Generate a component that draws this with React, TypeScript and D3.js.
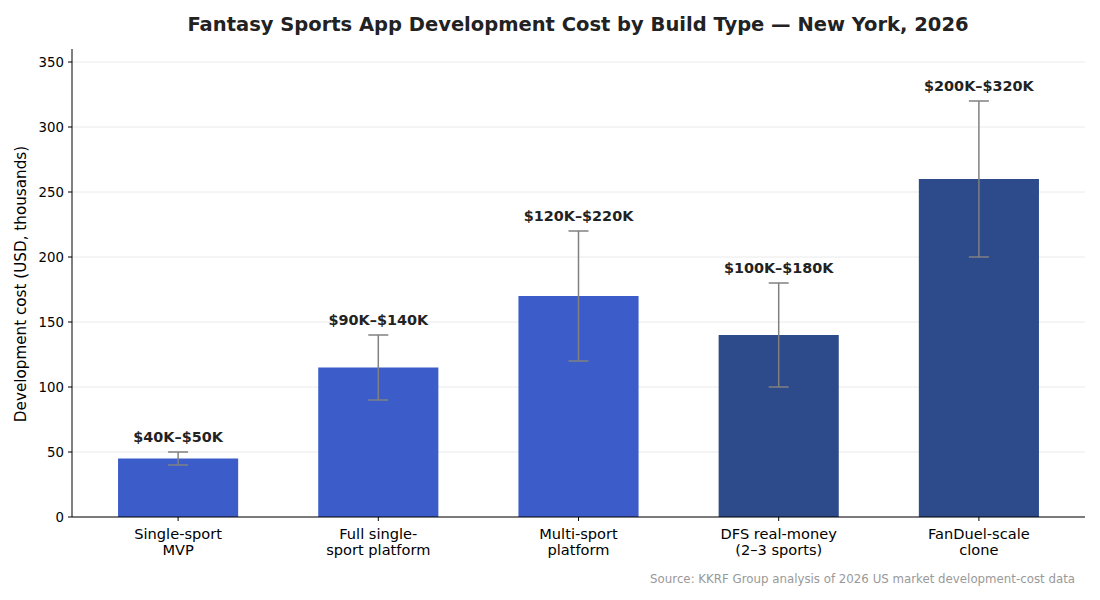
import React from 'react';
import * as d3 from 'd3';

const categories = ['Single-sport\nMVP', 'Full single-\nsport platform', 'Multi-sport\nplatform', 'DFS real-money\n(2–3 sports)', 'FanDuel-scale\nclone'];
const midValues = [45, 115, 170, 140, 260];
const lowValues = [40, 90, 120, 100, 200];
const highValues = [50, 140, 220, 180, 320];
const rangeLabels = ['$40K–$50K', '$90K–$140K', '$120K–$220K', '$100K–$180K', '$200K–$320K'];
const barColors = ['#3b5cc9', '#3b5cc9', '#3b5cc9', '#2d4a8a', '#2d4a8a'];
const yTicks = [0, 50, 100, 150, 200, 250, 300, 350];

const W = 1100;
const H = 600;
const left = 72;
const right = 1085;
const top = 49;
const bottom = 517;
const font = 'DejaVu Sans, sans-serif';

const App: React.FC = () => {
    // matplotlib-like linear x axis: bars at 0..4, width 0.6, 5% margins
    const x = d3.scaleLinear().domain([-0.53, 4.53]).range([left, right]);
    const y = d3.scaleLinear().domain([0, 360]).range([bottom, top]);
    const barW = x(0.6) - x(0);

    return (
        <svg width={W} height={H} style={{ position: 'absolute', left: 0, top: 0, background: '#fff' }} fontFamily={font}>
            <text x={578} y={31} textAnchor="middle" fontSize={19.5} fontWeight="bold" fill="#222">
                Fantasy Sports App Development Cost by Build Type — New York, 2026
            </text>

            {/* grid */}
            {yTicks.map(t => (
                <line key={'g' + t} x1={left} x2={right} y1={y(t)} y2={y(t)} stroke="#e5e5e5" strokeWidth={0.8} />
            ))}

            {/* bars */}
            {midValues.map((v, i) => (
                <rect key={'b' + i} x={x(i) - barW / 2} y={y(v)} width={barW} height={y(0) - y(v)} fill={barColors[i]} />
            ))}

            {/* error bars */}
            {midValues.map((_, i) => (
                <g key={'e' + i} stroke="#808080" strokeWidth={1.5}>
                    <line x1={x(i)} x2={x(i)} y1={y(lowValues[i])} y2={y(highValues[i])} />
                    <line x1={x(i) - 10} x2={x(i) + 10} y1={y(lowValues[i])} y2={y(lowValues[i])} />
                    <line x1={x(i) - 10} x2={x(i) + 10} y1={y(highValues[i])} y2={y(highValues[i])} />
                </g>
            ))}

            {/* range labels */}
            {rangeLabels.map((l, i) => (
                <text key={'l' + i} x={x(i)} y={y(highValues[i]) - 10} textAnchor="middle" fontSize={14.4} fontWeight="bold" fill="#222">
                    {l}
                </text>
            ))}

            {/* axes */}
            <line x1={left} x2={left} y1={top} y2={bottom} stroke="#000" strokeWidth={1} />
            <line x1={left} x2={right} y1={bottom} y2={bottom} stroke="#000" strokeWidth={1} />

            {yTicks.map(t => (
                <g key={'t' + t}>
                    <line x1={left - 4} x2={left} y1={y(t)} y2={y(t)} stroke="#000" />
                    <text x={left - 8} y={y(t)} dy="0.35em" textAnchor="end" fontSize={13.3} fill="#000">{t}</text>
                </g>
            ))}

            {categories.map((c, i) => (
                <g key={'c' + i}>
                    <line x1={x(i)} x2={x(i)} y1={bottom} y2={bottom + 4} stroke="#000" />
                    {c.split('\n').map((ln, j) => (
                        <text key={j} x={x(i)} y={bottom + 22 + j * 16} textAnchor="middle" fontSize={14.6} fill="#000">{ln}</text>
                    ))}
                </g>
            ))}

            <text transform={`translate(26,${(top + bottom) / 2 + 1}) rotate(-90)`} textAnchor="middle" fontSize={15.2} fill="#000">
                Development cost (USD, thousands)
            </text>

            <text x={1075} y={583} textAnchor="end" fontSize={11.8} fill="#999">
                Source: KKRF Group analysis of 2026 US market development-cost data
            </text>
        </svg>
    );
};

export default App;
